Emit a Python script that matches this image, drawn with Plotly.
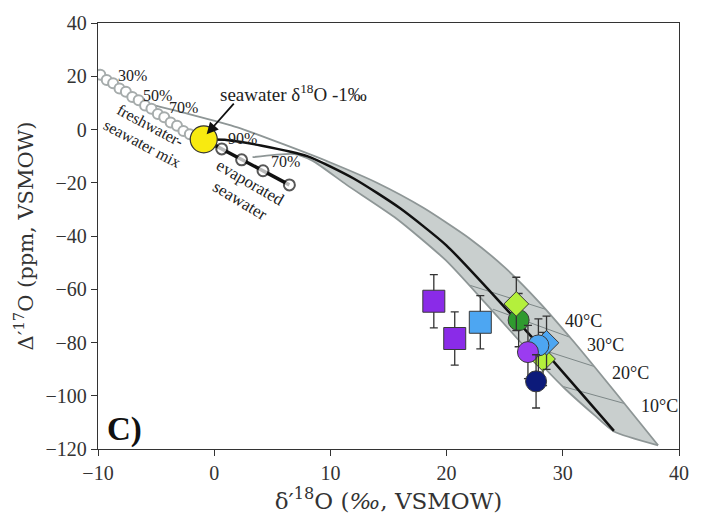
import plotly.graph_objects as go

# ---- model curves (delta'18O in permil, Delta'17O in ppm) ----
# upper edge: carbonate curve starting from the 50 % mixing water
upper_x = [-6.0, -2.0, 2.0, 6.0, 10.0, 14.0, 18.0, 22.0, 25.0, 28.0, 31.0, 34.5, 38.2]
upper_y = [10.0, 5.6, 0.8, -5.6, -12.4, -20.0, -29.4, -41.0, -51.8, -65.0, -80.0, -98.6, -118.6]

# lower edge: carbonate curve starting from 70 % evaporated seawater
lower_x = [3.3, 6.9, 8.45, 11.4, 15.7, 19.9, 23.3, 26.7, 30.1, 32.7, 34.4, 38.2]
lower_y = [-10.4, -9.2, -11.7, -20.8, -33.5, -49.0, -65.0, -81.5, -97.0, -107.2, -113.4, -118.6]

# carbonate equilibrium curve for modern seawater
sw_curve_x = [-0.9, 1.2, 4.0, 8.0, 12.0, 16.0, 20.0, 24.0, 28.0, 34.4]
sw_curve_y = [-3.7, -4.0, -6.0, -10.0, -18.4, -29.6, -43.6, -62.0, -81.2, -113.2]

# isotherms across the band: start / end points
iso_x0 = [22.0, 24.0, 26.5, 30.0]
iso_y0 = [-58.5, -67.5, -80.3, -96.5]
iso_x1 = [28.5, 30.6, 32.7, 35.3]
iso_y1 = [-67.5, -78.0, -89.0, -102.9]
iso_labels = ["40°C", "30°C", "20°C", "10°C"]
iso_lab_x = [31.8, 33.7, 35.8, 38.3]
iso_lab_y = [-71.9, -81.1, -91.4, -103.9]

# freshwater - seawater mixing chain
mix_x = [-9.8, -9.25, -8.7, -8.15, -7.6, -7.05, -6.5, -5.95, -5.4, -4.85, -4.3, -3.75, -3.2, -2.65, -2.1]
mix_y = [20.6, 18.6, 17.4, 15.4, 14.2, 12.2, 11.0, 9.0, 7.8, 5.8, 4.6, 2.6, 1.4, -0.6, -1.8]

# evaporated seawater chain
evap_x = [-0.9, 0.65, 2.36, 4.2, 6.47]
evap_y = [-3.7, -7.3, -11.4, -15.5, -20.8]

seawater_x = [-0.9]
seawater_y = [-3.7]

# ---- measured samples (value, 1 s.e.) ----
samples = [
    # name, x, y, err, symbol, colour
    ("s1", 18.9, -64.5, 10, "square", "#8a2be8"),
    ("s2", 20.7, -78.5, 10, "square", "#8a2be8"),
    ("s3", 22.9, -72.4, 10, "square", "#4da6f2"),
    ("s4", 26.2, -71.6, 10, "circle", "#2f9a2f"),
    ("s5", 26.0, -65.5, 10, "diamond", "#b4f03c"),
    ("s6", 28.3, -86.2, 10, "diamond", "#b4f03c"),
    ("s7", 28.6, -80.1, 10, "diamond", "#4da6f2"),
    ("s8", 27.9, -81.1, 10, "circle", "#4da6f2"),
    ("s9", 27.0, -83.6, 10, "circle", "#9b3cf0"),
    ("s10", 27.7, -94.6, 10, "circle", "#0c1a7a"),
]
marker_size = {"square": 22, "circle": 21, "diamond": 19}

x_ticks = [-10, 0, 10, 20, 30, 40]
y_ticks = [40, 20, 0, -20, -40, -60, -80, -100, -120]

SERIF = "Liberation Serif, Times New Roman, serif"
WIDE_SERIF = "DejaVu Serif, serif"
EDGE = "#8e9696"
FILL = "#c9cfce"

fig = go.Figure()

# shaded band between the two edges, beyond the point where they meet
bu = [(x, y) for x, y in zip(upper_x, upper_y) if x >= 10]
bl = [(x, y) for x, y in zip(lower_x, lower_y) if x >= 8.45]
poly = bu + bl[::-1]
fig.add_trace(go.Scatter(x=[p[0] for p in poly], y=[p[1] for p in poly],
                         mode="lines", fill="toself", fillcolor=FILL,
                         line=dict(width=0, shape="spline", smoothing=0.6),
                         hoverinfo="skip"))

for x0, y0, x1, y1 in zip(iso_x0, iso_y0, iso_x1, iso_y1):
    fig.add_trace(go.Scatter(x=[x0, x1], y=[y0, y1], mode="lines",
                             line=dict(color="#7d8787", width=1)))

fig.add_trace(go.Scatter(x=upper_x, y=upper_y, mode="lines",
                         line=dict(color=EDGE, width=1.8, shape="spline", smoothing=0.6)))
fig.add_trace(go.Scatter(x=lower_x, y=lower_y, mode="lines",
                         line=dict(color=EDGE, width=1.8, shape="spline", smoothing=0.6)))
fig.add_trace(go.Scatter(x=sw_curve_x, y=sw_curve_y, mode="lines",
                         line=dict(color="#111111", width=2.5, shape="spline", smoothing=0.6)))

fig.add_trace(go.Scatter(x=mix_x, y=mix_y, mode="lines+markers",
                         line=dict(color="#aab0b0", width=1.5),
                         marker=dict(symbol="circle", size=10, color="white",
                                     line=dict(color="#a6acac", width=2))))
fig.add_trace(go.Scatter(x=evap_x, y=evap_y, mode="lines+markers",
                         line=dict(color="#111111", width=3.5),
                         marker=dict(symbol="circle", size=[0, 11, 11, 11, 11],
                                     color="white",
                                     line=dict(color="#111111", width=2))))
fig.add_trace(go.Scatter(x=seawater_x, y=seawater_y, mode="markers",
                         marker=dict(symbol="circle", size=27, color="#f8ea10",
                                     line=dict(color="#333333", width=1.2))))

for name, x, y, e, sym, col in samples:
    fig.add_trace(go.Scatter(
        x=[x], y=[y], mode="markers", name=name,
        error_y=dict(type="constant", value=e, color="#333333", thickness=1.3, width=4),
        marker=dict(symbol=sym, size=marker_size[sym], color=col,
                    line=dict(color="#3a3a3a", width=1))))

labels = [
    ("30%", -7.0, 20.2, 0, 16), ("50%", -4.9, 12.8, 0, 16), ("70%", -2.6, 8.1, 0, 16),
    ("90%", 2.4, -3.3, 0, 16), ("70%", 6.1, -12.1, 0, 16),
    ("freshwater-", -5.5, 1.5, 28, 16), ("seawater mix", -6.2, -5.1, 28, 16),
    ("evaporated", 3.1, -19.8, 30, 17), ("seawater", 2.2, -26.8, 31, 17),
]
for t, x, y, ang, sz in labels:
    fig.add_annotation(x=x, y=y, text=t, showarrow=False, textangle=ang,
                       font=dict(family=SERIF, size=sz, color="#222222"))

fig.add_annotation(x=6.8, y=13.6, text="seawater δ<sup>18</sup>O -1‰", showarrow=False,
                   font=dict(family=SERIF, size=19, color="#222222"))
fig.add_annotation(x=-0.65, y=-1.8, ax=1.8, ay=10.3, axref="x", ayref="y",
                   text="", showarrow=True, arrowhead=2, arrowsize=1.3,
                   arrowwidth=1.8, arrowcolor="#111111")

for t, x, y in zip(iso_labels, iso_lab_x, iso_lab_y):
    fig.add_annotation(x=x, y=y, text=t, showarrow=False,
                       font=dict(family=SERIF, size=18, color="#222222"))

fig.add_annotation(x=-7.7, y=-112.7, text="<b>C)</b>", showarrow=False,
                   font=dict(family=SERIF, size=33, color="#111111"))

axis_common = dict(showline=True, linecolor="#333333", linewidth=1.3, mirror=True,
                   ticks="outside", ticklen=6, tickcolor="#333333", showgrid=False,
                   zeroline=False, tickfont=dict(family=SERIF, size=20, color="#333333"))
fig.update_xaxes(range=[-10, 40], tickvals=x_ticks, **axis_common,
                 title=dict(text="δ′<sup>18</sup>O (<i>‰</i>, VSMOW)", standoff=2,
                            font=dict(family=WIDE_SERIF, size=23, color="#333333")))
fig.update_yaxes(range=[-120, 40], tickvals=y_ticks, **axis_common,
                 title=dict(text="Δ′<sup>17</sup>O (ppm, VSMOW)", standoff=6,
                            font=dict(family=WIDE_SERIF, size=21, color="#333333")))

fig.update_layout(width=701, height=514, showlegend=False,
                  plot_bgcolor="white", paper_bgcolor="white",
                  margin=dict(l=98, r=14, t=16, b=62))

fig.write_html("out.html")
